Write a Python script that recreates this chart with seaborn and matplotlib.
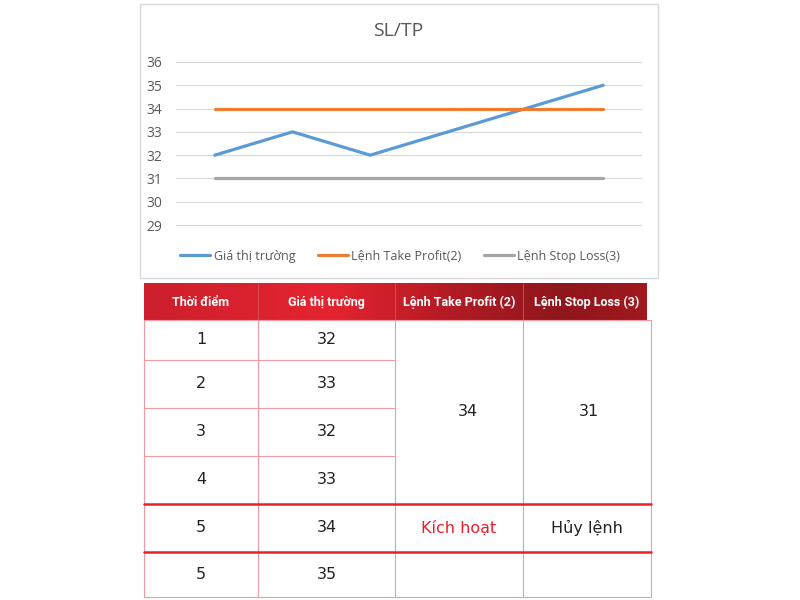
import numpy as np
import pandas as pd
import matplotlib.pyplot as plt
import matplotlib.patches as mpatches
from matplotlib.colors import LinearSegmentedColormap
import seaborn as sns

# chart data
chart_title = "SL/TP"
times = ["1", "2", "3", "4", "5", "5"]
market_price = [32, 33, 32, 33, 34, 35]
take_profit = 34
stop_loss = 31
series_names = ["Giá thị trường", "Lệnh Take Profit(2)", "Lệnh Stop Loss(3)"]
series_colors = ["#5b9bd5", "#ed7d31", "#a5a5a5"]
y_ticks = [29, 30, 31, 32, 33, 34, 35, 36]

# table data
header = ["Thời điểm", "Giá thị trường", "Lệnh Take Profit (2)", "Lệnh Stop Loss (3)"]
trigger_row = 4  # row where the take profit is hit
tp_status = "Kích hoạt"
sl_status = "Hủy lệnh"

sns.set_theme(style="white")
plt.rcParams["font.family"] = ["Open Sans", "DejaVu Sans"]

fig = plt.figure(figsize=(8, 6), dpi=100)

# ---- line chart ----
n = len(market_price)
df = pd.DataFrame({
    "step": list(range(n)) * 3,
    "value": market_price + [take_profit] * n + [stop_loss] * n,
    "series": [series_names[0]] * n + [series_names[1]] * n + [series_names[2]] * n,
})

ax = fig.add_axes([0.22, 0.621, 0.5825, 0.2777])
sns.lineplot(data=df, x="step", y="value", hue="series", hue_order=series_names,
             palette=series_colors, linewidth=2.3, ax=ax, legend=True, zorder=3)
ax.set_xlim(-0.5, n - 0.5)
ax.set_ylim(y_ticks[0] - 0.1, y_ticks[-1] + 0.05)
ax.set_yticks(y_ticks)
ax.set_xticks([])
ax.set_xlabel("")
ax.set_ylabel("")
ax.yaxis.grid(True, color="#d9d9d9", linewidth=0.9)
for s in ax.spines.values():
    s.set_visible(False)
ax.tick_params(axis="y", length=0, pad=10, labelcolor="#595959", labelsize=10)

handles, labels = ax.get_legend_handles_labels()
ax.legend(handles, labels, loc="center", bbox_to_anchor=(0.5, 0.573),
          bbox_transform=fig.transFigure, ncol=3, frameon=False,
          handlelength=2.4, handletextpad=0.25, columnspacing=1.8,
          fontsize=9, labelcolor="#595959")

fig.text(0.4975, 1 - 31 / 600, chart_title, ha="center", va="center",
         fontsize=14, color="#595959")

# ---- table (drawn in pixel coords) ----
tax = fig.add_axes([0, 0, 1, 1], zorder=-1)
tax.set_xlim(0, 800)
tax.set_ylim(600, 0)
tax.axis("off")

# chart frame
tax.add_patch(mpatches.Rectangle((140, 4), 518, 274, fill=False,
                                 edgecolor="#d9d9d9", linewidth=1))

col_x = [144, 258, 395, 523, 651]
row_y = [283, 320, 360, 408, 456, 504, 552, 597]
pink = "#f29aa2"
red = "#e8202a"

# header gradient
cmap = LinearSegmentedColormap.from_list("hdr", [
    (0.0, "#cd1f2c"), (0.37, "#e52431"), (0.61, "#b21b24"),
    (0.83, "#8f161c"), (1.0, "#a0191f")])
grad = np.linspace(0, 1, 256).reshape(1, -1)
tax.imshow(grad, cmap=cmap, aspect="auto",
           extent=[col_x[0], col_x[-1] - 4, row_y[1], row_y[0]])
for cx in col_x[1:-1]:
    tax.plot([cx, cx], [row_y[0], row_y[1]], color="#d9505b", lw=0.6)

hdr_font = ["Roboto", "DejaVu Sans"]
for i, h in enumerate(header):
    tax.text((col_x[i] + col_x[i + 1]) / 2, (row_y[0] + row_y[1]) / 2 + 1, h,
             ha="center", va="center", color="white", fontsize=9,
             fontweight="bold", family=hdr_font)

# body grid
for cx in col_x:
    tax.plot([cx, cx], [row_y[1], row_y[-1]], color=pink, lw=0.8)
tax.plot([col_x[0], col_x[-1]], [row_y[1], row_y[1]], color=pink, lw=0.8)
tax.plot([col_x[0], col_x[-1]], [row_y[-1], row_y[-1]], color=pink, lw=0.8)
for r in range(2, trigger_row + 1):
    tax.plot([col_x[0], col_x[2]], [row_y[r], row_y[r]], color=pink, lw=0.8)
for r in (trigger_row + 1, trigger_row + 2):
    tax.plot([col_x[0], col_x[-1]], [row_y[r], row_y[r]], color=red, lw=1.8)

body_font = ["DejaVu Sans"]
txt = "#222222"
fs = 11.5
for i, (t, p) in enumerate(zip(times, market_price)):
    yc = (row_y[i + 1] + row_y[i + 2]) / 2
    tax.text((col_x[0] + col_x[1]) / 2, yc, t, ha="center", va="center",
             fontsize=fs, color=txt, family=body_font)
    tax.text((col_x[1] + col_x[2]) / 2, yc, str(p), ha="center", va="center",
             fontsize=fs, color=txt, family=body_font)

ym = (row_y[1] + row_y[trigger_row + 1]) / 2
tax.text((col_x[2] + col_x[3]) / 2 + 9, ym, str(take_profit), ha="center",
         va="center", fontsize=fs, color=txt, family=body_font)
tax.text((col_x[3] + col_x[4]) / 2 + 2, ym, str(stop_loss), ha="center",
         va="center", fontsize=fs, color=txt, family=body_font)

yt = (row_y[trigger_row + 1] + row_y[trigger_row + 2]) / 2
tax.text((col_x[2] + col_x[3]) / 2, yt, tp_status, ha="center", va="center",
         fontsize=fs, color=red, family=body_font)
tax.text((col_x[3] + col_x[4]) / 2, yt, sl_status, ha="center", va="center",
         fontsize=fs, color=txt, family=body_font)

fig.savefig("out.png", dpi=100)
